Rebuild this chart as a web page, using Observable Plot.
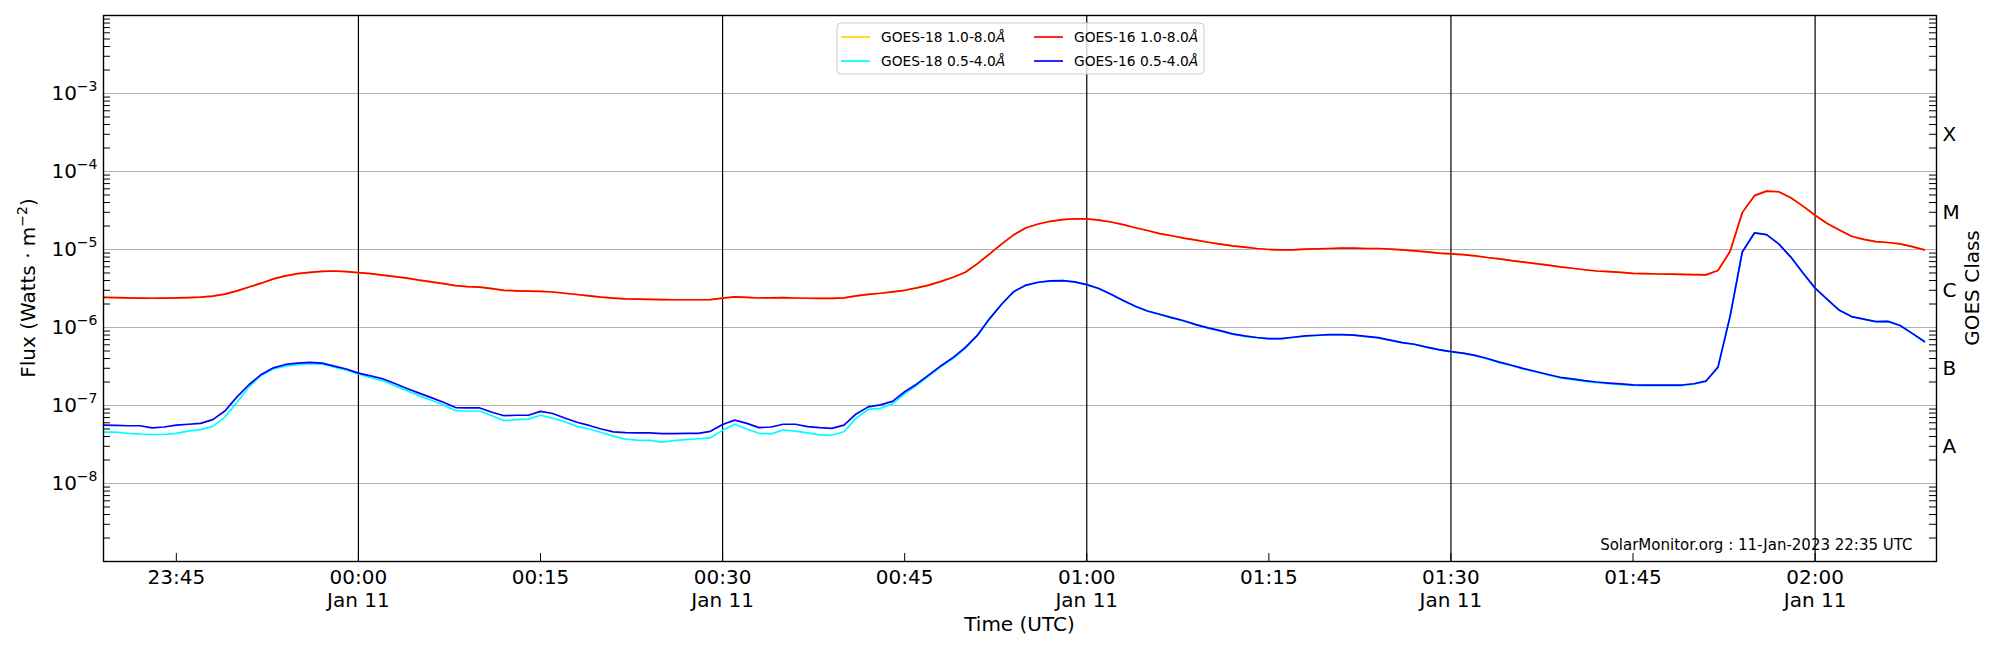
<!DOCTYPE html>
<html>
<head>
<meta charset="utf-8">
<script src="https://cdn.jsdelivr.net/npm/d3@7"></script>
<script src="https://cdn.jsdelivr.net/npm/@observablehq/plot@0.6"></script>
<style>
  body { margin: 0; background: #ffffff; }
  #chart { width: 2000px; height: 650px; }
</style>
</head>
<body>
<div id="chart"></div>
<script>
// ---- time stamps (1-minute cadence, UTC) ----
const times = [
  "23:39","23:40","23:41","23:42","23:43","23:44","23:45","23:46","23:47","23:48",
  "23:49","23:50","23:51","23:52","23:53","23:54","23:55","23:56","23:57","23:58",
  "23:59","00:00","00:01","00:02","00:03","00:04","00:05","00:06","00:07","00:08",
  "00:09","00:10","00:11","00:12","00:13","00:14","00:15","00:16","00:17","00:18",
  "00:19","00:20","00:21","00:22","00:23","00:24","00:25","00:26","00:27","00:28",
  "00:29","00:30","00:31","00:32","00:33","00:34","00:35","00:36","00:37","00:38",
  "00:39","00:40","00:41","00:42","00:43","00:44","00:45","00:46","00:47","00:48",
  "00:49","00:50","00:51","00:52","00:53","00:54","00:55","00:56","00:57","00:58",
  "00:59","01:00","01:01","01:02","01:03","01:04","01:05","01:06","01:07","01:08",
  "01:09","01:10","01:11","01:12","01:13","01:14","01:15","01:16","01:17","01:18",
  "01:19","01:20","01:21","01:22","01:23","01:24","01:25","01:26","01:27","01:28",
  "01:29","01:30","01:31","01:32","01:33","01:34","01:35","01:36","01:37","01:38",
  "01:39","01:40","01:41","01:42","01:43","01:44","01:45","01:46","01:47","01:48",
  "01:49","01:50","01:51","01:52","01:53","01:54","01:55","01:56","01:57","01:58",
  "01:59","02:00","02:01","02:02","02:03","02:04","02:05","02:06","02:07","02:08",
  "02:09"
];

// ---- GOES-18 1.0-8.0 A (gold, hidden under GOES-16 long) ----
const goes18Long = [
  2.44e-6,2.42e-6,2.40e-6,2.38e-6,2.37e-6,2.38e-6,2.40e-6,2.42e-6,2.45e-6,2.52e-6,
  2.68e-6,2.95e-6,3.30e-6,3.70e-6,4.20e-6,4.60e-6,4.90e-6,5.10e-6,5.25e-6,5.30e-6,
  5.20e-6,5.05e-6,4.90e-6,4.70e-6,4.50e-6,4.30e-6,4.05e-6,3.85e-6,3.65e-6,3.45e-6,
  3.35e-6,3.30e-6,3.15e-6,3.00e-6,2.95e-6,2.92e-6,2.90e-6,2.85e-6,2.75e-6,2.65e-6,
  2.55e-6,2.45e-6,2.38e-6,2.33e-6,2.31e-6,2.29e-6,2.28e-6,2.27e-6,2.27e-6,2.27e-6,
  2.28e-6,2.38e-6,2.47e-6,2.43e-6,2.39e-6,2.40e-6,2.41e-6,2.39e-6,2.37e-6,2.36e-6,
  2.36e-6,2.40e-6,2.55e-6,2.66e-6,2.75e-6,2.87e-6,3.00e-6,3.22e-6,3.50e-6,3.90e-6,
  4.40e-6,5.10e-6,6.60e-6,8.80e-6,1.18e-5,1.55e-5,1.90e-5,2.12e-5,2.30e-5,2.42e-5,
  2.48e-5,2.47e-5,2.38e-5,2.25e-5,2.08e-5,1.90e-5,1.75e-5,1.60e-5,1.50e-5,1.40e-5,
  1.32e-5,1.24e-5,1.17e-5,1.11e-5,1.07e-5,1.03e-5,1.00e-5,9.9e-6,9.9e-6,1.01e-5,
  1.02e-5,1.03e-5,1.04e-5,1.04e-5,1.03e-5,1.03e-5,1.01e-5,9.9e-6,9.6e-6,9.3e-6,
  9.0e-6,8.8e-6,8.6e-6,8.3e-6,7.9e-6,7.6e-6,7.2e-6,6.9e-6,6.6e-6,6.3e-6,
  6.0e-6,5.75e-6,5.5e-6,5.3e-6,5.2e-6,5.1e-6,4.95e-6,4.9e-6,4.85e-6,4.82e-6,
  4.8e-6,4.75e-6,4.73e-6,5.37e-6,9.5e-6,2.97e-5,4.9e-5,5.6e-5,5.5e-5,4.6e-5,
  3.6e-5,2.75e-5,2.15e-5,1.78e-5,1.48e-5,1.35e-5,1.26e-5,1.23e-5,1.18e-5,1.09e-5,
  9.9e-6
];

// ---- GOES-18 0.5-4.0 A (cyan) ----
const goes18Short = [
  4.57e-8,4.57e-8,4.4e-8,4.3e-8,4.25e-8,4.25e-8,4.4e-8,4.7e-8,4.9e-8,5.4e-8,
  7.1e-8,1.1e-7,1.75e-7,2.43e-7,2.95e-7,3.2e-7,3.35e-7,3.43e-7,3.4e-7,3.1e-7,
  2.83e-7,2.54e-7,2.27e-7,2.08e-7,1.8e-7,1.55e-7,1.33e-7,1.17e-7,1.02e-7,8.6e-8,
  8.5e-8,8.5e-8,7.4e-8,6.4e-8,6.6e-8,6.7e-8,7.5e-8,6.9e-8,6.2e-8,5.4e-8,
  5.0e-8,4.5e-8,4.05e-8,3.7e-8,3.6e-8,3.57e-8,3.4e-8,3.55e-8,3.66e-8,3.75e-8,
  3.85e-8,4.8e-8,5.75e-8,5.0e-8,4.4e-8,4.33e-8,4.85e-8,4.7e-8,4.45e-8,4.2e-8,
  4.15e-8,4.6e-8,6.9e-8,8.9e-8,9.2e-8,1.05e-7,1.41e-7,1.82e-7,2.4e-7,3.16e-7,
  4.0e-7,5.4e-7,7.9e-7,1.29e-6,1.99e-6,2.88e-6,3.48e-6,3.78e-6,3.93e-6,3.98e-6,
  3.83e-6,3.52e-6,3.14e-6,2.65e-6,2.2e-6,1.86e-6,1.62e-6,1.47e-6,1.33e-6,1.21e-6,
  1.08e-6,9.8e-7,9.0e-7,8.2e-7,7.7e-7,7.4e-7,7.15e-7,7.15e-7,7.45e-7,7.75e-7,
  7.9e-7,8.05e-7,8.05e-7,7.95e-7,7.65e-7,7.35e-7,6.85e-7,6.35e-7,6.05e-7,5.55e-7,
  5.15e-7,4.85e-7,4.65e-7,4.35e-7,3.95e-7,3.55e-7,3.24e-7,2.93e-7,2.69e-7,2.46e-7,
  2.26e-7,2.15e-7,2.04e-7,1.96e-7,1.9e-7,1.85e-7,1.81e-7,1.8e-7,1.8e-7,1.8e-7,
  1.8e-7,1.88e-7,2.03e-7,3.1e-7,1.4e-6,9.3e-6,1.63e-5,1.55e-5,1.18e-5,8.0e-6,
  5.0e-6,3.2e-6,2.3e-6,1.66e-6,1.38e-6,1.28e-6,1.19e-6,1.2e-6,1.06e-6,8.4e-7,
  6.6e-7
];

// ---- GOES-16 1.0-8.0 A (red) ----
const goes16Long = [
  2.44e-6,2.42e-6,2.40e-6,2.38e-6,2.37e-6,2.38e-6,2.40e-6,2.42e-6,2.45e-6,2.52e-6,
  2.68e-6,2.95e-6,3.30e-6,3.70e-6,4.20e-6,4.60e-6,4.90e-6,5.10e-6,5.25e-6,5.30e-6,
  5.20e-6,5.05e-6,4.90e-6,4.70e-6,4.50e-6,4.30e-6,4.05e-6,3.85e-6,3.65e-6,3.45e-6,
  3.35e-6,3.30e-6,3.15e-6,3.00e-6,2.95e-6,2.92e-6,2.90e-6,2.85e-6,2.75e-6,2.65e-6,
  2.55e-6,2.45e-6,2.38e-6,2.33e-6,2.31e-6,2.29e-6,2.28e-6,2.27e-6,2.27e-6,2.27e-6,
  2.28e-6,2.38e-6,2.47e-6,2.43e-6,2.39e-6,2.40e-6,2.41e-6,2.39e-6,2.37e-6,2.36e-6,
  2.36e-6,2.40e-6,2.55e-6,2.66e-6,2.75e-6,2.87e-6,3.00e-6,3.22e-6,3.50e-6,3.90e-6,
  4.40e-6,5.10e-6,6.60e-6,8.80e-6,1.18e-5,1.55e-5,1.90e-5,2.12e-5,2.30e-5,2.42e-5,
  2.48e-5,2.47e-5,2.38e-5,2.25e-5,2.08e-5,1.90e-5,1.75e-5,1.60e-5,1.50e-5,1.40e-5,
  1.32e-5,1.24e-5,1.17e-5,1.11e-5,1.07e-5,1.03e-5,1.00e-5,9.9e-6,9.9e-6,1.01e-5,
  1.02e-5,1.03e-5,1.04e-5,1.04e-5,1.03e-5,1.03e-5,1.01e-5,9.9e-6,9.6e-6,9.3e-6,
  9.0e-6,8.8e-6,8.6e-6,8.3e-6,7.9e-6,7.6e-6,7.2e-6,6.9e-6,6.6e-6,6.3e-6,
  6.0e-6,5.75e-6,5.5e-6,5.3e-6,5.2e-6,5.1e-6,4.95e-6,4.9e-6,4.85e-6,4.82e-6,
  4.8e-6,4.75e-6,4.73e-6,5.37e-6,9.5e-6,2.97e-5,4.9e-5,5.6e-5,5.5e-5,4.6e-5,
  3.6e-5,2.75e-5,2.15e-5,1.78e-5,1.48e-5,1.35e-5,1.26e-5,1.23e-5,1.18e-5,1.09e-5,
  9.9e-6
];

// ---- GOES-16 0.5-4.0 A (blue) ----
const goes16Short = [
  5.6e-8,5.55e-8,5.5e-8,5.5e-8,5.16e-8,5.3e-8,5.6e-8,5.75e-8,5.9e-8,6.6e-8,
  8.5e-8,1.29e-7,1.86e-7,2.5e-7,3.04e-7,3.36e-7,3.5e-7,3.58e-7,3.49e-7,3.2e-7,
  2.94e-7,2.6e-7,2.4e-7,2.2e-7,1.91e-7,1.65e-7,1.44e-7,1.26e-7,1.1e-7,9.4e-8,
  9.3e-8,9.3e-8,8.2e-8,7.4e-8,7.5e-8,7.5e-8,8.4e-8,7.9e-8,6.9e-8,6.1e-8,
  5.55e-8,5.0e-8,4.6e-8,4.5e-8,4.45e-8,4.45e-8,4.35e-8,4.35e-8,4.4e-8,4.4e-8,
  4.67e-8,5.7e-8,6.5e-8,5.9e-8,5.2e-8,5.3e-8,5.75e-8,5.75e-8,5.35e-8,5.2e-8,
  5.1e-8,5.6e-8,7.8e-8,9.6e-8,1.02e-7,1.13e-7,1.5e-7,1.89e-7,2.47e-7,3.24e-7,
  4.14e-7,5.55e-7,8.0e-7,1.3e-6,2.0e-6,2.9e-6,3.5e-6,3.8e-6,3.95e-6,4.0e-6,
  3.85e-6,3.54e-6,3.16e-6,2.67e-6,2.22e-6,1.87e-6,1.63e-6,1.48e-6,1.34e-6,1.22e-6,
  1.09e-6,9.9e-7,9.1e-7,8.3e-7,7.8e-7,7.45e-7,7.2e-7,7.2e-7,7.5e-7,7.8e-7,
  7.95e-7,8.1e-7,8.1e-7,8.0e-7,7.7e-7,7.4e-7,6.9e-7,6.4e-7,6.1e-7,5.6e-7,
  5.2e-7,4.9e-7,4.7e-7,4.4e-7,4.0e-7,3.6e-7,3.28e-7,2.97e-7,2.73e-7,2.5e-7,
  2.3e-7,2.19e-7,2.08e-7,2.0e-7,1.94e-7,1.89e-7,1.84e-7,1.83e-7,1.83e-7,1.83e-7,
  1.83e-7,1.9e-7,2.05e-7,3.1e-7,1.4e-6,9.3e-6,1.63e-5,1.55e-5,1.18e-5,8.0e-6,
  5.0e-6,3.2e-6,2.3e-6,1.66e-6,1.38e-6,1.28e-6,1.19e-6,1.2e-6,1.06e-6,8.4e-7,
  6.6e-7
];

// ---- axes / labels ----
const xDomain = ["23:39", "02:10"];
const xTicks = ["23:45","00:00","00:15","00:30","00:45","01:00","01:15","01:30","01:45","02:00"];
const xTickLabels = ["23:45","00:00\nJan 11","00:15","00:30\nJan 11","00:45","01:00\nJan 11","01:15","01:30\nJan 11","01:45","02:00\nJan 11"];
const dayLines = ["00:00","00:30","01:00","01:30","02:00"];
const yDomain = [1e-9, 1e-2];
const yTicks = [1e-8, 1e-7, 1e-6, 1e-5, 1e-4, 1e-3];
const yTickLabels = ["10^\u22128","10^\u22127","10^\u22126","10^\u22125","10^\u22124","10^\u22123"];
const yGrid = [1e-8, 1e-7, 1e-6, 1e-5, 1e-4, 1e-3];
const classLetters = ["A","B","C","M","X"];
const classPositions = [3e-8, 3e-7, 3e-6, 3e-5, 3e-4];
const legendLabels = ["GOES-18 1.0-8.0","GOES-18 0.5-4.0","GOES-16 1.0-8.0","GOES-16 0.5-4.0"];
const legendColors = ["#ffd700","#00ffff","#ff0000","#0000ff"];
const watermark = "SolarMonitor.org : 11-Jan-2023 22:35 UTC";

const parseT = s => {
  const [h, m] = s.split(":").map(Number);
  return new Date(Date.UTC(2023, 0, h >= 12 ? 10 : 11, h, m));
};

const makeRows = vals => times.map((t, i) => ({t: parseT(t), v: vals[i]}));

const minorTicks = [];
for (let e = -9; e <= -3; e++) for (let m = 2; m <= 9; m++) minorTicks.push(m * Math.pow(10, e));

const xLabelMap = new Map(xTicks.map((t, i) => [+parseT(t), xTickLabels[i]]));
const yLabelMap = new Map(yTicks.map((t, i) => [t, yTickLabels[i]]));

const font = "DejaVu Sans";

const chart = Plot.plot({
  width: 2000,
  height: 650,
  marginLeft: 103,
  marginRight: 64,
  marginTop: 15,
  marginBottom: 89,
  style: {fontFamily: font, background: "white", color: "black"},
  x: {type: "utc", domain: xDomain.map(parseT)},
  y: {type: "log", domain: yDomain},
  marks: [
    Plot.ruleY(yGrid, {stroke: "#b0b0b0", strokeWidth: 1}),
    Plot.ruleX(dayLines.map(parseT), {stroke: "black", strokeWidth: 1.2}),
    Plot.line(makeRows(goes18Long), {x: "t", y: "v", stroke: legendColors[0], strokeWidth: 1.7}),
    Plot.line(makeRows(goes18Short), {x: "t", y: "v", stroke: legendColors[1], strokeWidth: 1.7}),
    Plot.line(makeRows(goes16Long), {x: "t", y: "v", stroke: legendColors[2], strokeWidth: 1.7}),
    Plot.line(makeRows(goes16Short), {x: "t", y: "v", stroke: legendColors[3], strokeWidth: 1.7}),
    Plot.axisY({anchor: "left", ticks: yTicks, tickSize: 0, tickPadding: 6, fontSize: 20,
      tickFormat: d => yLabelMap.get(d) ?? "", label: null}),
    Plot.axisY({anchor: "left", ticks: minorTicks, tickSize: -7, tickFormat: () => "", label: null}),
    Plot.axisY({anchor: "right", ticks: minorTicks, tickSize: -8, tickFormat: () => "", label: null}),
    Plot.axisX({anchor: "bottom", ticks: xTicks.map(parseT), tickSize: -8, tickPadding: 14,
      fontSize: 20, lineHeight: 1.15, tickFormat: d => xLabelMap.get(+d) ?? "", label: null}),
    Plot.text(classLetters, {y: classPositions, text: d => d, frameAnchor: "right", dx: 6,
      textAnchor: "start", fontSize: 20, fill: "black"}),
    Plot.text([watermark], {text: d => d, frameAnchor: "bottom-right", dx: -24, dy: -12,
      textAnchor: "end", lineAnchor: "bottom", fontSize: 15, fill: "black"}),
    Plot.frame({stroke: "black", strokeWidth: 1.4})
  ]
});

document.getElementById("chart").appendChild(chart);
const svg = d3.select(chart);

// superscripts on y tick labels
svg.selectAll('g[aria-label="y-axis tick label"] text').each(function () {
  const s = this.textContent;
  if (!s.includes("^")) return;
  const [base, exp] = s.split("^");
  const t = d3.select(this);
  t.text(null);
  t.append("tspan").text(base);
  t.append("tspan").attr("dy", -9).attr("font-size", 14).text(exp);
});

// axis titles
const ylab = svg.append("text")
  .attr("transform", "translate(35,288) rotate(-90)")
  .attr("text-anchor", "middle").attr("font-family", font).attr("font-size", 20).attr("fill", "black");
ylab.append("tspan").text("Flux (Watts \u00b7 m");
ylab.append("tspan").attr("dy", -8).attr("font-size", 14).text("\u22122");
ylab.append("tspan").attr("dy", 8).text(")");

svg.append("text")
  .attr("transform", "translate(1979,288) rotate(-90)")
  .attr("text-anchor", "middle").attr("font-family", font).attr("font-size", 20).attr("fill", "black")
  .text("GOES Class");

svg.append("text")
  .attr("x", 1019.5).attr("y", 631)
  .attr("text-anchor", "middle").attr("font-family", font).attr("font-size", 20).attr("fill", "black")
  .text("Time (UTC)");

// legend
const lg = svg.append("g").attr("font-family", font).attr("font-size", 13.8).attr("text-anchor", "start");
lg.append("rect").attr("x", 837).attr("y", 23).attr("width", 367).attr("height", 51).attr("rx", 4)
  .attr("fill", "white").attr("fill-opacity", 0.8).attr("stroke", "#cccccc").attr("stroke-width", 1);
legendLabels.forEach((lab, i) => {
  const col = i < 2 ? 0 : 1, row = i % 2;
  const x0 = col === 0 ? 841 : 1034;
  const y0 = row === 0 ? 37 : 61;
  lg.append("line").attr("x1", x0).attr("x2", x0 + 29).attr("y1", y0).attr("y2", y0)
    .attr("stroke", legendColors[i]).attr("stroke-width", 1.7);
  const tx = lg.append("text").attr("x", x0 + 40).attr("y", y0 + 5).attr("fill", "black")
    .attr("text-anchor", "start");
  tx.append("tspan").text(lab);
  tx.append("tspan").attr("font-style", "italic").text("\u00c5");
});
</script>
</body>
</html>
